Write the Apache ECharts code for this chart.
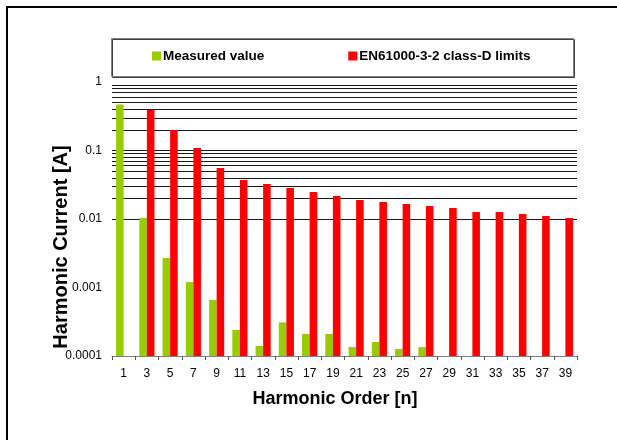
<!DOCTYPE html>
<html>
<head>
<meta charset="utf-8">
<script src="https://cdn.jsdelivr.net/npm/echarts@6/dist/echarts.min.js"></script>
<style>
html,body{margin:0;padding:0;background:#fff;}
#chart{width:617px;height:440px;}
</style>
</head>
<body>
<div id="chart"></div>
<script>
// ---- data ----
var harmonicOrders = ['1','3','5','7','9','11','13','15','17','19','21','23','25','27','29','31','33','35','37','39'];
var measuredValues = [0.47, 0.0103, 0.0027, 0.0012, 0.00066, 0.00024, 0.00014, 0.00031, 0.00021, 0.00021, 0.000135, 0.00016, 0.000127, 0.000135, null, null, null, null, null, null];
var classDLimits = [null, 0.39, 0.2, 0.109, 0.0556, 0.037, 0.0324, 0.0284, 0.0248, 0.0217, 0.0189, 0.0177, 0.0166, 0.0155, 0.0145, 0.0127, 0.0127, 0.0118, 0.0111, 0.0103];
var yTickLabels = ['0.0001', '0.001', '0.01', '0.1', '1'];
var seriesNames = ['Measured value', 'EN61000-3-2 class-D limits'];
var xTitle = 'Harmonic Order [n]';
var yTitle = 'Harmonic Current [A]';
var gridLineValues = [
  0.0002,0.0003,0.0004,0.0005,0.0006,0.0007,0.0008,0.0009,
  0.001,0.002,0.003,0.004,0.005,0.006,0.007,0.008,0.009,
  0.01,0.02,0.03,0.04,0.05,0.06,0.07,0.08,0.09,
  0.1,0.2,0.3,0.4,0.5,0.6,0.7,0.8,0.9
];

var FONT = '"Liberation Sans", Arial, sans-serif';
var chart = echarts.init(document.getElementById('chart'), null, {renderer: 'canvas'});

var option = {
  animation: false,
  backgroundColor: '#ffffff',
  grid: {left: 112, right: 40, top: 82, bottom: 84, containLabel: false},
  legend: {
    left: 152,
    top: 49,
    padding: 0,
    itemGap: 84,
    itemWidth: 9,
    itemHeight: 9,
    icon: 'rect',
    textStyle: {fontFamily: FONT, fontWeight: 'bold', fontSize: 13.5, color: '#000', padding: [0,0,0,-3]},
    data: seriesNames
  },
  xAxis: {
    type: 'category',
    data: harmonicOrders,
    boundaryGap: true,
    axisLine: {show: true, lineStyle: {color: '#808080', width: 1}},
    axisTick: {show: true, length: 4, interval: 0, alignWithLabel: false, lineStyle: {color: '#555'}},
    axisLabel: {interval: 0, margin: 12, fontFamily: FONT, fontSize: 12, color: '#000'},
    splitLine: {show: false}
  },
  yAxis: {
    type: 'log',
    logBase: 10,
    min: 0.0001,
    max: 1,
    startValue: 0.0001,
    axisLine: {show: false},
    axisTick: {show: false},
    splitLine: {show: false},
    axisLabel: {
      margin: 10,
      fontFamily: FONT,
      fontSize: 12,
      color: '#000',
      formatter: function (v) {
        for (var i = 0; i < yTickLabels.length; i++) {
          if (Math.abs(Math.log10(+yTickLabels[i]) - Math.log10(v)) < 1e-6) return yTickLabels[i];
        }
        return '';
      }
    }
  },
  series: [
    {
      name: seriesNames[0],
      type: 'bar',
      data: measuredValues,
      barGap: '0%',
      barCategoryGap: '35%',
      itemStyle: {color: '#99CC00'},
      z: 2,
      markLine: {
        z: 1,
        silent: true,
        symbol: 'none',
        label: {show: false},
        lineStyle: {color: '#1a1a1a', type: 'solid', width: 1},
        emphasis: {disabled: true},
        data: gridLineValues.map(function (v) { return {yAxis: v}; })
      }
    },
    {
      name: seriesNames[1],
      type: 'bar',
      data: classDLimits,
      barGap: '0%',
      barCategoryGap: '35%',
      itemStyle: {color: '#FF0000'},
      z: 2
    }
  ],
  graphic: [
    {
      type: 'polyline',
      silent: true,
      shape: {points: [[7, 440], [7, 7], [617, 7]]},
      style: {stroke: '#000', lineWidth: 2, fill: null}
    },
    {
      type: 'rect',
      silent: true,
      z: 0,
      shape: {x: 111.5, y: 38.5, width: 462, height: 38},
      style: {fill: '#fff', stroke: '#808080', lineWidth: 1, shadowColor: '#404040', shadowOffsetX: 1, shadowOffsetY: 1, shadowBlur: 0}
    },
    {
      type: 'text',
      silent: true,
      x: 335,
      y: 399,
      style: {text: xTitle, font: 'bold 18px ' + FONT, fill: '#000', align: 'center', verticalAlign: 'middle'}
    },
    {
      type: 'text',
      silent: true,
      x: 61,
      y: 247,
      rotation: Math.PI / 2,
      style: {text: yTitle, font: 'bold 20px ' + FONT, fill: '#000', align: 'center', verticalAlign: 'middle'}
    }
  ]
};
chart.setOption(option);
</script>
</body>
</html>
